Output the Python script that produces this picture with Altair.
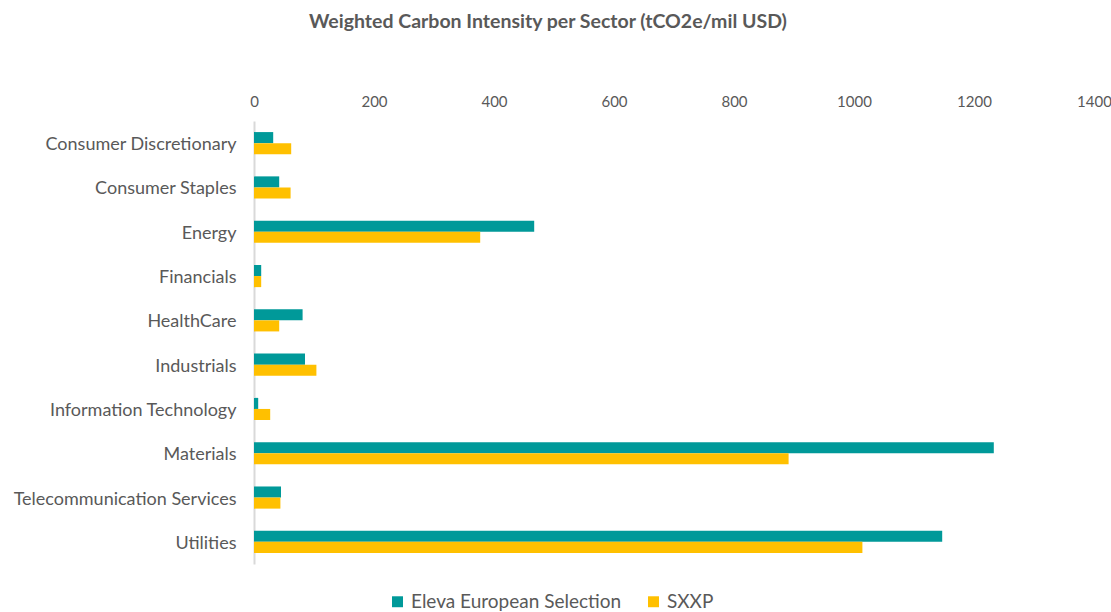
import altair as alt
import pandas as pd

sectors = [
    "Consumer Discretionary", "Consumer Staples", "Energy", "Financials",
    "HealthCare", "Industrials", "Information Technology", "Materials",
    "Telecommunication Services", "Utilities",
]
eleva = [32, 42, 467, 12, 81, 85, 7, 1233, 45, 1147]
sxxp = [62, 61, 377, 12, 42, 104, 27, 891, 44, 1014]
series = ["Eleva European Selection", "SXXP"]
colors = ["#009999", "#FFC000"]

rows = []
for s, a, b in zip(sectors, eleva, sxxp):
    rows.append({"sector": s, "series": series[0], "value": a})
    rows.append({"sector": s, "series": series[1], "value": b})
df = pd.DataFrame(rows)

FONT = "Lato"
GREY = "#595959"

chart = alt.Chart(df).mark_bar().encode(
    x=alt.X("value:Q",
            scale=alt.Scale(domain=[0, 1400], nice=False),
            axis=alt.Axis(orient="top", values=[0, 200, 400, 600, 800, 1000, 1200, 1400],
                          format="d",
                          title=None, grid=False, domain=False, ticks=False,
                          labelFont=FONT, labelFontSize=15, labelColor=GREY,
                          labelPadding=12, labelFlush=False)),
    y=alt.Y("sector:N", sort=sectors,
            scale=alt.Scale(paddingInner=0.5, paddingOuter=0.25),
            axis=alt.Axis(title=None, ticks=False, domainColor="#D9D9D9", domainWidth=2,
                          labelFont=FONT, labelFontSize=18, labelColor=GREY,
                          labelPadding=18, labelLimit=300, labelOffset=2)),
    yOffset=alt.YOffset("series:N", sort=series),
    color=alt.Color("series:N", sort=series,
                    scale=alt.Scale(domain=series, range=colors),
                    legend=alt.Legend(title=None, orient="none", direction="horizontal",
                                      legendX=134, legendY=471,
                                      symbolType="square", symbolSize=120,
                                      symbolStrokeWidth=0,
                                      labelFont=FONT, labelFontSize=19, labelColor=GREY,
                                      columnPadding=22, labelLimit=400)),
).properties(
    width=840,
    height=443,
    title=alt.TitleParams("Weighted Carbon Intensity per Sector (tCO2e/mil USD)",
                          font=FONT, fontSize=19.5, fontWeight="bold", color=GREY,
                          anchor="middle", dx=-126, offset=62),
    autosize=alt.AutoSizeParams(type="none"),
    padding={"left": 254, "top": 121, "right": 17, "bottom": 48},
).configure_view(stroke=None)

chart.save("out.html", embed_options={"renderer": "svg", "actions": False})
